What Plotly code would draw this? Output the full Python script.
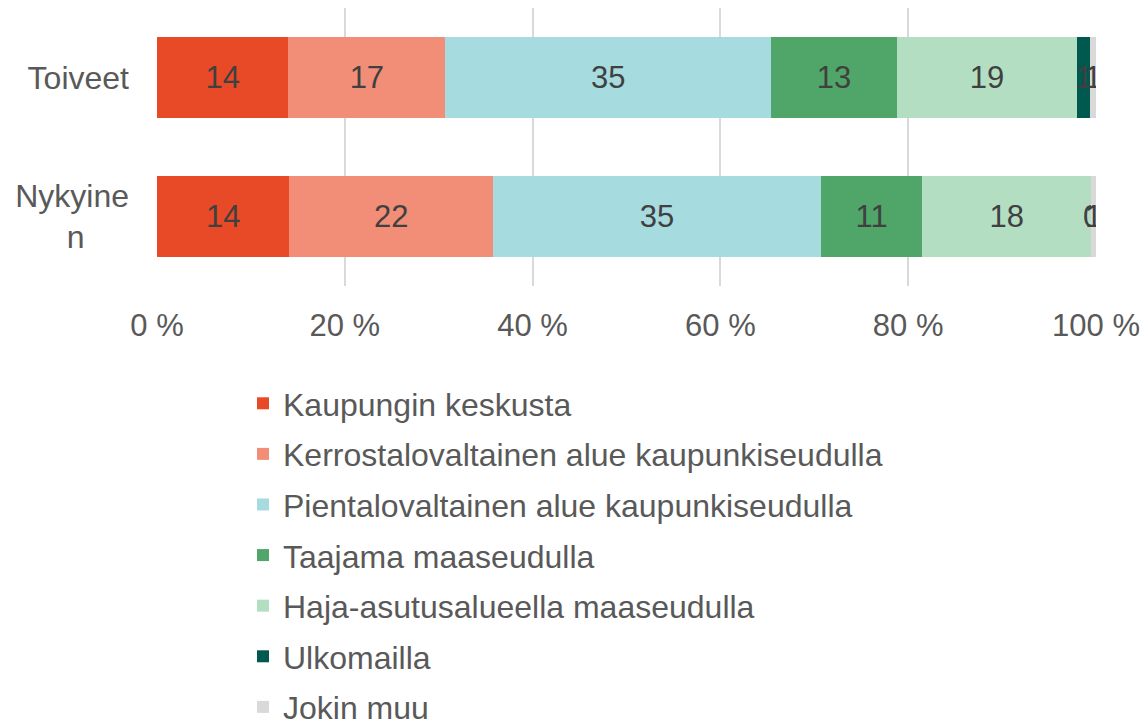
import plotly.graph_objects as go

categories = ["Toiveet", "Nykyine<br>n\u00a0\u00a0\u00a0\u00a0\u00a0"]
series_names = [
    "Kaupungin keskusta",
    "Kerrostalovaltainen alue kaupunkiseudulla",
    "Pientalovaltainen alue kaupunkiseudulla",
    "Taajama maaseudulla",
    "Haja-asutusalueella maaseudulla",
    "Ulkomailla",
    "Jokin muu",
]
# values per series: [Toiveet, Nykyinen]
kaupungin_keskusta = [14.0, 14.1]
kerrostalo = [16.7, 21.7]
pientalo = [34.7, 34.9]
taajama = [13.4, 10.8]
haja_asutus = [19.2, 18.0]
ulkomailla = [1.4, 0.01]
jokin_muu = [0.6, 0.5]

series_values = [kaupungin_keskusta, kerrostalo, pientalo, taajama,
                 haja_asutus, ulkomailla, jokin_muu]
colors = ["#E84A27", "#F28E78", "#A6DBE0", "#4FA668", "#B4DEC2", "#00594F", "#D9D9D9"]
x_ticks = [0, 20, 40, 60, 80, 100]
x_tick_labels = [f"{v} %" for v in x_ticks]

FONT = "Liberation Sans, Arial, sans-serif"
TXT = "#595959"
FS = 31

fig = go.Figure()
for i, (name, vals, col) in enumerate(zip(series_names, series_values, colors)):
    fig.add_trace(go.Bar(
        y=categories, x=vals, name=name, orientation="h",
        marker=dict(color=col, line=dict(width=0)),
        texttemplate="%{x:.0f}", textposition="inside",
        insidetextanchor="middle",
        textfont=dict(family=FONT, size=FS, color="#404040"),
        legendgroup=f"g{i}",
    ))

fig.update_layout(
    barmode="stack",
    bargap=0.42,
    width=1140, height=719,
    margin=dict(l=149, r=52, t=0, b=441, autoexpand=False),
    paper_bgcolor="white", plot_bgcolor="white",
    font=dict(family=FONT, color=TXT),
    uniformtext=dict(minsize=FS, mode="show"),
    xaxis=dict(range=[0, 100], tickvals=x_ticks, ticktext=x_tick_labels,
               showgrid=True, gridcolor="#D9D9D9", gridwidth=2,
               zeroline=False, showline=False,
               tickfont=dict(size=FS, color=TXT, family=FONT),
               ticks="", ticklabelstandoff=18),
    yaxis=dict(categoryorder="array", categoryarray=categories,
               autorange="reversed", showgrid=False, showline=False,
               tickfont=dict(size=FS + 1, color=TXT, family=FONT), ticks="",
               ticklabelstandoff=27),
    legend=dict(orientation="v", x=0.0916, xanchor="left", xref="paper",
                y=0.4882, yanchor="top", yref="container",
                traceorder="grouped", tracegroupgap=6, maxheight=2000,
                font=dict(size=32, color=TXT, family=FONT),
                itemclick=False),
)

fig.write_html("out.html")
